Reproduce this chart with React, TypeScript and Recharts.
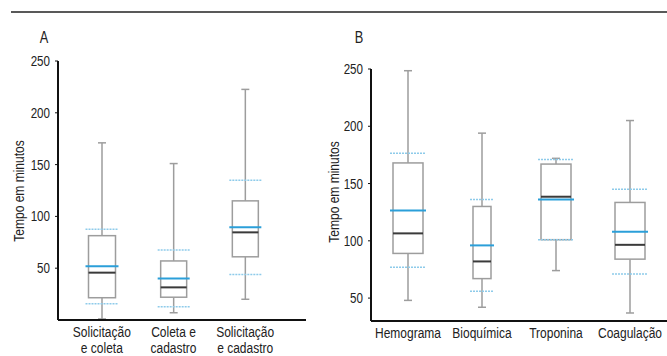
import React from 'react';
import { ComposedChart, Bar, XAxis, YAxis } from 'recharts';

// Painel A - etapas
const categoriesA = ['Solicitação\ne coleta', 'Coleta e\ncadastro', 'Solicitação\ne cadastro'];
const minA = [1, 7, 20];
const q1A = [21.5, 22, 61];
const medianA = [45.7, 31.5, 84.6];
const meanA = [51.8, 40, 89.5];
const q3A = [81.4, 57, 115];
const maxA = [171, 151, 222.6];
const sdLowA = [15.7, 12.9, 44];
const sdHighA = [87.5, 67.5, 135];
const ticksA = [50, 100, 150, 200, 250];

// Painel B - exames
const categoriesB = ['Hemograma', 'Bioquímica', 'Troponina', 'Coagulação'];
const minB = [48, 42, 74, 37];
const q1B = [89, 67, 101, 84];
const medianB = [106.5, 82, 138.5, 96.5];
const meanB = [126.5, 96, 136, 108];
const q3B = [168, 130, 167, 133.5];
const maxB = [248.5, 194, 172, 205];
const sdLowB = [77, 56, 101, 71];
const sdHighB = [176.5, 136, 171, 145];
const ticksB = [50, 100, 150, 200, 250];

const boxWidthsA = [27, 26, 26];
const boxWidthsB = [30, 18, 30, 30];

const font = '"Liberation Sans", Arial, sans-serif';

const build = (cats: string[], min: number[], q1: number[], med: number[], mean: number[], q3: number[], max: number[], sdl: number[], sdh: number[]) =>
  cats.map((name, i) => ({
    name,
    low: min[i],
    q1: q1[i],
    median: med[i],
    mean: mean[i],
    q3: q3[i],
    high: max[i],
    sdLow: sdl[i],
    sdHigh: sdh[i],
  }));

const dataA = build(categoriesA, minA, q1A, medianA, meanA, q3A, maxA, sdLowA, sdHighA);
const dataB = build(categoriesB, minB, q1B, medianB, meanB, q3B, maxB, sdLowB, sdHighB);

// condensed look: squeeze a regular sans horizontally
const Narrow = ({ x, y, size = 15, anchor = 'middle', rotate = 0, children }: any) => (
  <g transform={`translate(${x},${y}) rotate(${rotate}) scale(0.8,1)`}>
    <text x={0} y={0} textAnchor={anchor} fill="#222" fontSize={size} fontFamily={font}>
      {children}
    </text>
  </g>
);

const makeBox = (widths: number[]) => (props: any) => {
  const { x, y, width, height, payload, index } = props;
  const top = Math.min(y, y + height);
  const h = Math.abs(height);
  const { low, high } = payload;
  const py = (v: number) => top + ((high - v) / (high - low)) * h;
  const cx = x + width / 2;
  const bw = widths[index] ?? 28;
  const grey = '#9d9d9d';
  return (
    <g>
      <line x1={cx} x2={cx} y1={py(high)} y2={py(payload.q3)} stroke={grey} strokeWidth={1.5} />
      <line x1={cx} x2={cx} y1={py(payload.q1)} y2={py(low)} stroke={grey} strokeWidth={1.5} />
      <line x1={cx - 4} x2={cx + 4} y1={py(high)} y2={py(high)} stroke={grey} strokeWidth={1.5} />
      <line x1={cx - 4} x2={cx + 4} y1={py(low)} y2={py(low)} stroke={grey} strokeWidth={1.5} />
      <rect x={cx - bw / 2} y={py(payload.q3)} width={bw} height={py(payload.q1) - py(payload.q3)} fill="#fff" stroke={grey} strokeWidth={1.5} />
      <line x1={cx - bw / 2 - 3} x2={cx + bw / 2 + 3} y1={py(payload.sdHigh)} y2={py(payload.sdHigh)} stroke="#8ecbea" strokeWidth={1.5} strokeDasharray="2 1" />
      <line x1={cx - bw / 2 - 3} x2={cx + bw / 2 + 3} y1={py(payload.sdLow)} y2={py(payload.sdLow)} stroke="#8ecbea" strokeWidth={1.5} strokeDasharray="2 1" />
      <line x1={cx - bw / 2} x2={cx + bw / 2} y1={py(payload.median)} y2={py(payload.median)} stroke="#3a3a3a" strokeWidth={2} />
      <line x1={cx - bw / 2 - 3} x2={cx + bw / 2 + 3} y1={py(payload.mean)} y2={py(payload.mean)} stroke="#2b9fd9" strokeWidth={2} />
    </g>
  );
};

const CatTick = (props: any) => {
  const { x, y, payload } = props;
  const lines = String(payload.value).split('\n');
  return (
    <g>
      {lines.map((l, i) => (
        <Narrow key={i} x={x} y={y + 9 + i * 16}>
          {l}
        </Narrow>
      ))}
    </g>
  );
};

const ValTick = (props: any) => {
  const { x, y, payload } = props;
  return (
    <Narrow x={x - 3} y={y + 5} anchor="end" size={14.5}>
      {payload.value}
    </Narrow>
  );
};

export default function App() {
  return (
    <div style={{ position: 'absolute', left: 0, top: 0, width: 667, height: 356, background: '#fff', overflow: 'hidden' }}>
      <svg width={667} height={356} style={{ position: 'absolute', left: 0, top: 0 }}>
        <line x1={11} x2={667} y1={12} y2={12} stroke="#222" strokeWidth={1.5} />
        <Narrow x={44} y={43} size={16}>A</Narrow>
        <Narrow x={359} y={43} size={16}>B</Narrow>
        <Narrow x={24} y={191} size={15} rotate={-90}>Tempo em minutos</Narrow>
        <Narrow x={339} y={192} size={15} rotate={-90}>Tempo em minutos</Narrow>
      </svg>

      <div style={{ position: 'absolute', left: 0, top: 0 }}>
        <ComposedChart width={310} height={356} data={dataA} margin={{ top: 61, right: 4, bottom: 0, left: 0 }}>
          <XAxis
            dataKey="name"
            height={36}
            tickLine={false}
            axisLine={{ stroke: '#111', strokeWidth: 2 }}
            tick={<CatTick />}
            interval={0}
            padding={{ left: 8, right: 25 }}
          />
          <YAxis
            width={58}
            domain={[0, 250]}
            ticks={ticksA}
            allowDataOverflow
            tickSize={3}
            tickLine={{ stroke: '#111' }}
            axisLine={{ stroke: '#111', strokeWidth: 2 }}
            tick={<ValTick />}
          />
          <Bar dataKey={(d: any) => [d.low, d.high]} barSize={30} shape={makeBox(boxWidthsA)} isAnimationActive={false} />
        </ComposedChart>
      </div>

      <div style={{ position: 'absolute', left: 313, top: 0 }}>
        <ComposedChart width={354} height={356} data={dataB} margin={{ top: 69, right: 0, bottom: 0, left: 0 }}>
          <XAxis
            dataKey="name"
            height={35}
            tickLine={false}
            axisLine={{ stroke: '#111', strokeWidth: 2 }}
            tick={<CatTick />}
            interval={0}
          />
          <YAxis
            width={58}
            domain={[30, 250]}
            ticks={ticksB}
            allowDataOverflow
            tickSize={3}
            tickLine={{ stroke: '#111' }}
            axisLine={{ stroke: '#111', strokeWidth: 2 }}
            tick={<ValTick />}
          />
          <Bar dataKey={(d: any) => [d.low, d.high]} barSize={30} shape={makeBox(boxWidthsB)} isAnimationActive={false} />
        </ComposedChart>
      </div>
    </div>
  );
}
